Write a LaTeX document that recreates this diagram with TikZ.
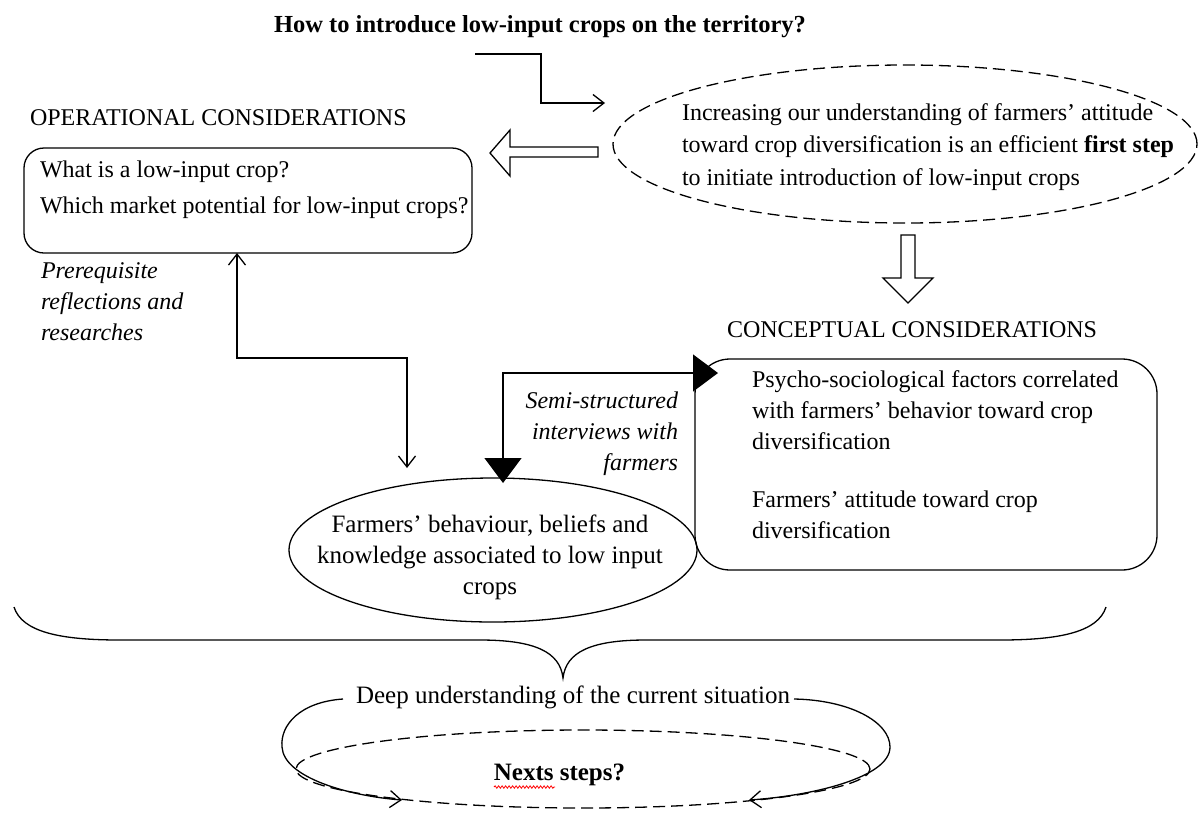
\documentclass[tikz,border=0pt]{standalone}
\usepackage{fontspec}
\setmainfont{Liberation Serif}
\usetikzlibrary{arrows.meta,shapes.geometric,decorations.pathmorphing}
\begin{document}
\begin{tikzpicture}[x=1pt,y=-1pt,line width=1.3pt,
  every node/.style={inner sep=0pt,outer sep=0pt},
  tx/.style={font=\fontsize{24}{31}\selectfont},
  barb/.tip={Straight Barb[length=11pt,width=17pt,line width=1.3pt]},
  tri/.tip={Triangle[length=25pt,width=37pt]},
  dsh/.style={dash pattern=on 12pt off 6pt},
  blockarrow/.style={draw,line width=1.3pt,line join=miter}]
\useasboundingbox (0,0) rectangle (1201,812);

% title and first step
\node[font=\bfseries\fontsize{24.5}{30}\selectfont, anchor=base] (title) at (540,32) {How to introduce low-input crops on the territory?};
\node[draw,dsh,ellipse,minimum width=584pt,minimum height=158pt] (goal) at (905,144) {};
\node[align=left, anchor=base west, font=\fontsize{24}{32.5}\selectfont] (goaltxt) at (682,185) {Increasing our understanding of farmers’ attitude\\toward crop diversification is an efficient \textbf{first step}\\to initiate introduction of low-input crops};
\coordinate (s0) at (475,54);
\coordinate (s1) at (605,103);
\draw[-barb] (s0) -- (541,54) |- (s1);

% operational
\node[tx, anchor=base west] (optitle) at (30,125) {OPERATIONAL CONSIDERATIONS};
\node[draw, rounded corners=20pt, minimum width=448pt, minimum height=105pt, anchor=north west] (opbox) at (24,148) {};
\node[tx, align=left, anchor=base west] (optxt) at (40,213) {What is a low-input crop?\\[5pt]Which market potential for low-input crops?};
\draw[blockarrow] (598,147) -- (510,147) -- (510,130) -- (490,153) -- (510,176) -- (510,157) -- (598,157) -- cycle;
\node[align=left, anchor=base west, font=\itshape\fontsize{24}{31}\selectfont] (prereq) at (41,340) {Prerequisite\\reflections and\\researches};

% conceptual
\draw[blockarrow] (901,235) -- (901,278) -- (883,278) -- (908,303) -- (933,278) -- (915,278) -- (915,235) -- cycle;
\node[tx, anchor=base west] (cotitle) at (727,337) {CONCEPTUAL CONSIDERATIONS};
\node[draw, rounded corners=35pt, minimum width=462pt, minimum height=211pt, anchor=north west] (cbox) at (695,359) {};
\node[tx, align=left, anchor=base west] (ctxt) at (752,538) {Psycho-sociological factors correlated\\with farmers’ behavior toward crop\\diversification\\[27pt]Farmers’ attitude toward crop\\diversification};

% farmers ellipse
\node[draw, ellipse, minimum width=408pt, minimum height=144pt] (beh) at (493,550) {};
\node[align=center, anchor=base, font=\fontsize{25}{31}\selectfont] (behtxt) at (490,594) {Farmers’ behaviour, beliefs and\\knowledge associated to low input\\crops};
\node[align=right, anchor=base east, font=\itshape\fontsize{24}{31}\selectfont] (semi) at (678,470) {Semi-structured\\interviews with\\farmers};

% connectors
\coordinate (p0) at (237,253);
\coordinate (p1) at (407,468);
\draw[barb-barb] (p0) -- (237,358) -| (p1);
\coordinate (m0) at (503,483);
\coordinate (m1) at (718,373);
\draw[tri-tri] (m0) |- (m1);

% brace
\draw (14,607) .. controls (22,632) and (60,640) .. (120,640) -- (480,640) .. controls (535,640) and (560,652) .. (563,678) .. controls (566,652) and (591,640) .. (646,640) -- (1000,640) .. controls (1060,640) and (1098,632) .. (1106,607);

% bottom
\node[anchor=base, font=\fontsize{25}{31}\selectfont] (deep) at (573,703) {Deep understanding of the current situation};
\node[draw,dsh,ellipse,minimum width=574pt,minimum height=78pt] (next) at (583,769) {};
\node[anchor=base, font=\bfseries\fontsize{25}{31}\selectfont] (nexts) at (559.5,780) {Nexts steps?};
\draw[red, line width=0.8pt, decorate, decoration={snake, amplitude=1.2pt, segment length=3.5pt}] (494,787) -- (555,787);
\coordinate (l0) at (343,699);
\coordinate (l1) at (402,800);
\coordinate (r0) at (794,699);
\coordinate (r1) at (749,800);
\draw[-barb] (l0) .. controls (300,702) and (280,725) .. (282,747) .. controls (284,778) and (350,796) .. (l1);
\draw[-barb] (r0) .. controls (850,700) and (890,722) .. (890,747) .. controls (890,778) and (810,796) .. (r1);
\end{tikzpicture}
\end{document}
